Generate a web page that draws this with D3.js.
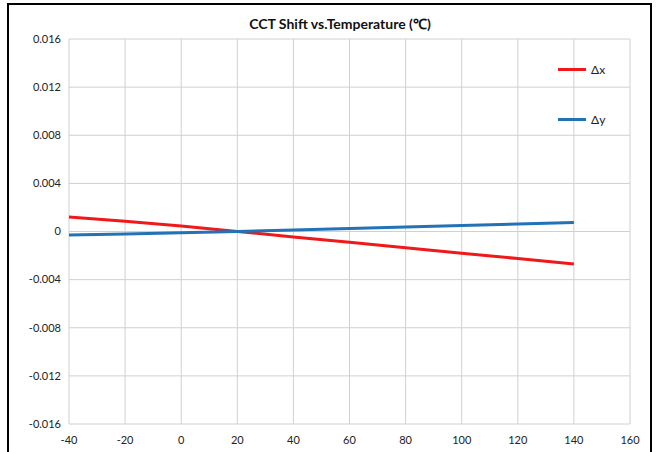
<!DOCTYPE html>
<html><head><meta charset="utf-8">
<script src="https://cdn.jsdelivr.net/npm/d3@7"></script>
<style>body{margin:0;background:#fff;} svg{display:block;font-family:Lato,"Open Sans",sans-serif;}</style>
</head><body>
<svg id="c" width="658" height="452"></svg>
<script>
const temps = [-40, -20, 0, 20, 40, 60, 80, 100, 120, 140];
const dxValues = [0.0012, 0.00085, 0.00045, 0.0, -0.00045, -0.0009, -0.00135, -0.0018, -0.00225, -0.0027];
const dyValues = [-0.0003, -0.0002, -0.0001, 0.0, 0.00013, 0.00025, 0.00038, 0.0005, 0.00063, 0.00075];
const xTicks = [-40, -20, 0, 20, 40, 60, 80, 100, 120, 140, 160];
const yTicks = [-0.016, -0.012, -0.008, -0.004, 0, 0.004, 0.008, 0.012, 0.016];
const seriesNames = ["Δx", "Δy"];
const seriesColors = ["#f01818", "#2272b6"];
const title = "CCT Shift vs.Temperature (℃)";

const svg = d3.select("#c");
const L = 69, R = 630, T = 39, B = 424;
const x = d3.scaleLinear().domain([-40, 160]).range([L, R]);
const y = d3.scaleLinear().domain([-0.016, 0.016]).range([B, T]);

// outer frame
svg.append("rect").attr("x", 8).attr("y", 4).attr("width", 643).attr("height", 460)
  .attr("fill", "none").attr("stroke", "#000").attr("stroke-width", 2);

// grid
svg.append("g").selectAll("line").data(xTicks).join("line")
  .attr("x1", d => x(d)).attr("x2", d => x(d)).attr("y1", T).attr("y2", B)
  .attr("stroke", "#d0d0d0").attr("stroke-width", 1);
svg.append("g").selectAll("line").data(yTicks).join("line")
  .attr("x1", L).attr("x2", R).attr("y1", d => y(d)).attr("y2", d => y(d))
  .attr("stroke", "#d0d0d0").attr("stroke-width", 1);

// axes labels
const fmtY = d => d === 0 ? "0" : d3.format(".3f")(d).replace("−", "-");
svg.append("g").selectAll("text").data(yTicks).join("text")
  .attr("x", 61).attr("y", d => y(d)).attr("dy", "0.35em").attr("text-anchor", "end")
  .attr("font-size", 11).attr("fill", "#222").text(fmtY);
svg.append("g").selectAll("text").data(xTicks).join("text")
  .attr("x", d => x(d)).attr("y", 444).attr("text-anchor", "middle")
  .attr("font-size", 11).attr("fill", "#222").text(d => String(d));

// title
svg.append("text").attr("x", 340).attr("y", 29).attr("text-anchor", "middle")
  .attr("font-size", 14).attr("font-weight", "bold").attr("fill", "#111").text(title);

// lines
const line = d3.line().x((d, i) => x(temps[i])).y(d => y(d));
[dxValues, dyValues].forEach((vals, k) => {
  svg.append("path").datum(vals).attr("d", line).attr("fill", "none")
    .attr("stroke", seriesColors[k]).attr("stroke-width", 3).attr("stroke-linecap", "butt");
});

// legend
const legY = [69.5, 119.5];
seriesNames.forEach((n, k) => {
  svg.append("line").attr("x1", 558).attr("x2", 586).attr("y1", legY[k]).attr("y2", legY[k])
    .attr("stroke", seriesColors[k]).attr("stroke-width", 3);
  svg.append("text").attr("x", 591).attr("y", legY[k]).attr("dy", "0.35em")
    .attr("font-size", 12).attr("fill", "#222").text(n);
});
</script>
</body></html>
